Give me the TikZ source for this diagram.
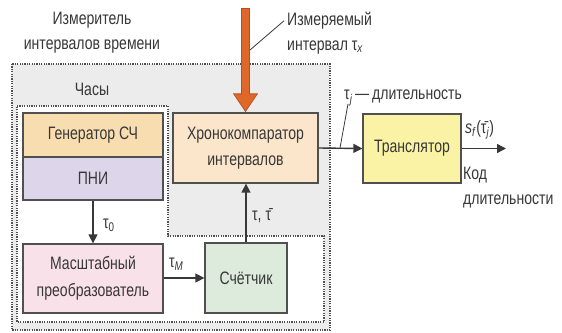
\documentclass[tikz,border=0pt]{standalone}
\usepackage{fontspec}
\setmainfont[FakeStretch=0.78]{Liberation Sans}
\usetikzlibrary{arrows.meta}

\definecolor{inkgray}{HTML}{383838}
\definecolor{edgegray}{HTML}{505050}
\definecolor{panelgray}{HTML}{ECECEC}
\definecolor{genfill}{HTML}{F8DDB0}
\definecolor{pnifill}{HTML}{DDD6EA}
\definecolor{scalefill}{HTML}{F9E1EA}
\definecolor{cntfill}{HTML}{DCEBDC}
\definecolor{chronfill}{HTML}{FBE5CB}
\definecolor{transfill}{HTML}{FAF2A4}
\definecolor{inputorange}{HTML}{E0672A}
\definecolor{inputedge}{HTML}{B5501E}

\tikzset{
  blockbox/.style={draw=edgegray, line width=1.3pt, inner sep=0pt, align=center,
    text=inkgray},
  groupline/.style={draw=edgegray, line width=1.3pt, dash pattern=on 1.2pt off 1.2pt},
  signal/.style={draw=inkgray, line width=1.4pt,
    -{Triangle[length=9pt, width=9pt]}},
  pointer/.style={draw=inkgray, line width=0.8pt},
  caption/.style={text=inkgray, inner sep=0pt},
}

\begin{document}
\begin{tikzpicture}[x=1pt, y=-1pt, font=\fontsize{18}{25}\selectfont]
\useasboundingbox (0,0) rectangle (562,332);

% measuring unit and the clock group
\path[groupline, fill=panelgray] (12,64) rectangle (330,330);
\path[groupline, fill=white] (17,106) -- (168,106) -- (168,236) -- (324,236)
  -- (324,322) -- (17,322) -- cycle;

% blocks
\node[blockbox, fill=genfill, minimum width=140pt, minimum height=44pt]
  (gen) at (93,135) {Генератор СЧ};
\node[blockbox, fill=pnifill, minimum width=140pt, minimum height=43pt]
  (pni) at (93,178.5) {ПНИ};
\node[blockbox, fill=scalefill, minimum width=140pt, minimum height=69pt,
  font=\fontsize{18}{27}\selectfont]
  (scale) at (93,278.5) {Масштабный\\преобразователь};
\node[blockbox, fill=cntfill, minimum width=82pt, minimum height=70pt]
  (cnt) at (246,278) {Счётчик};
\node[blockbox, fill=chronfill, minimum width=145pt, minimum height=70pt,
  font=\fontsize{18}{26}\selectfont]
  (chron) at (245.5,148) {Хронокомпаратор\\интервалов};
\node[blockbox, fill=transfill, minimum width=98pt, minimum height=69pt]
  (trans) at (412,148.5) {Транслятор};

% captions
\node[caption, align=center] (meter) at (92,33)
  {Измеритель\\интервалов времени};
\node[caption] (clock) at (92,89) {Часы};
\node[caption, align=left, anchor=west] (txlabel) at (287,33)
  {Измеряемый\\интервал τ\textsubscript{\textit{x}}};
\node[caption, anchor=west] (tjlabel) at (344,98)
  {τ\textsubscript{\textit{j}}\kern2.5pt—\kern3pt длительность};
\node[caption, anchor=west] (sflabel) at (465,130)
  {\textit{s}\textsubscript{\textit{f}}(\={τ}\textsubscript{\textit{j}})};
\node[caption, align=left, anchor=west] (codelabel) at (463,188)
  {Код\\длительности};
\node[caption, anchor=west] (t0label) at (103,225) {τ\textsubscript{0}};
\node[caption, anchor=west] (tmlabel) at (169,264) {τ\textsubscript{\textit{M}}};
\node[caption, anchor=west] (ttlabel) at (252,216) {τ, \={τ}};

% measured interval input
\coordinate (src) at (245.5,8);
\draw[inputedge, line width=9.5pt,
  -{Triangle[length=19pt, width=24pt]}] (src) -- (chron.north);
\draw[inputorange, line width=7.5pt, shorten <=1pt, shorten >=1.5pt,
  -{Triangle[length=16.5pt, width=21pt]}] (src) -- (chron.north);
\coordinate (srcmark) at (250,50);
\draw[pointer] (srcmark) -- ([xshift=-3pt,yshift=-9pt]txlabel.north west);

% signal paths
\draw[signal] (pni.south) -- (scale.north);
\draw[signal] (scale.east |- cnt.west) -- (cnt.west);
\draw[signal] (cnt.north) -- (cnt.north |- chron.south);
\draw[signal] (chron.east) -- (trans.west);
\coordinate (outend) at (506,148.5);
\draw[signal] (trans.east) -- (outend);

% duration pointer
\coordinate (tjmark) at (340,148);
\draw[pointer] (tjmark) -- ([xshift=4pt,yshift=2pt]tjlabel.south west);
\end{tikzpicture}
\end{document}
